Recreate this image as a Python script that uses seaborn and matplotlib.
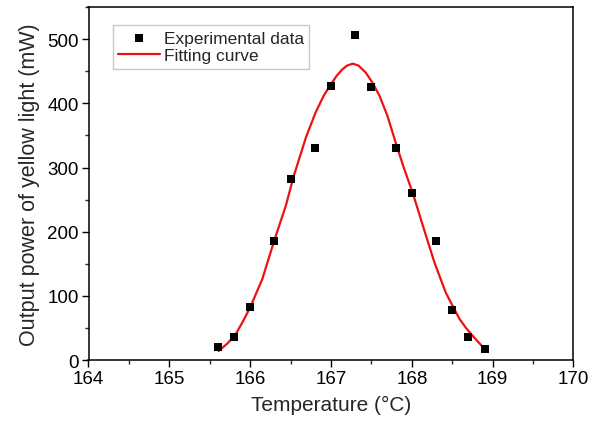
import seaborn as sns
import matplotlib.pyplot as plt
import pandas as pd
from matplotlib.ticker import MultipleLocator

# experimental points
temp = [165.6, 165.8, 166.0, 166.3, 166.5, 166.8, 167.0, 167.3, 167.5,
        167.8, 168.0, 168.3, 168.5, 168.7, 168.9]
power = [21, 36, 83, 185, 282, 330, 427, 507, 425, 330, 260, 185, 78, 36, 17]

# fitting curve
fit_temp = [165.61, 165.72, 165.82, 165.91, 166.0, 166.15, 166.29, 166.44,
            166.54, 166.69, 166.81, 166.91, 167.0, 167.07, 167.14, 167.2,
            167.27, 167.34, 167.43, 167.51, 167.6, 167.7, 167.8, 167.9,
            168.01, 168.15, 168.28, 168.42, 168.59, 168.67, 168.75, 168.83, 168.9]
fit_power = [14, 26, 40, 60, 82, 126, 183, 240, 287, 347, 386, 412, 430, 443,
             453, 459, 462, 459, 448, 433, 412, 380, 339, 300, 261, 204, 152,
             105, 64, 50, 38, 27, 17]

sns.set_theme(style="ticks")
plt.rcParams['font.family'] = ['Liberation Sans', 'DejaVu Sans']

df = pd.DataFrame({"T": temp, "P": power})
fit = pd.DataFrame({"T": fit_temp, "P": fit_power})

fig = plt.figure(figsize=(5.9, 4.31), dpi=100)
ax = fig.add_axes([0.150, 0.1624, 0.822, 0.8186])

sns.scatterplot(data=df, x="T", y="P", marker="s", color="black", s=38,
                edgecolor="black", linewidth=0, label="Experimental data", ax=ax, zorder=3)
sns.lineplot(data=fit, x="T", y="P", color="#ee1111", linewidth=1.6,
             label="Fitting curve", ax=ax, zorder=2)

ax.set_xlim(164, 170)
ax.set_ylim(0, 550)
ax.xaxis.set_major_locator(MultipleLocator(1))
ax.xaxis.set_minor_locator(MultipleLocator(0.5))
ax.yaxis.set_major_locator(MultipleLocator(100))
ax.yaxis.set_minor_locator(MultipleLocator(50))
ax.tick_params(which="major", direction="out", length=5, width=1, labelsize=13.5,
               colors="black", pad=2)
ax.tick_params(which="minor", direction="out", length=3, width=1)
for sp in ax.spines.values():
    sp.set_visible(True)
    sp.set_linewidth(1.1)
    sp.set_color("black")

ax.set_xlabel("Temperature (\u00b0C)", fontsize=15, labelpad=6)
ax.set_ylabel("Output power of yellow light (mW)", fontsize=15.5, labelpad=5)

leg = ax.legend(loc="upper left", bbox_to_anchor=(0.051, 0.949), borderaxespad=0,
                fontsize=12.5, frameon=True, fancybox=False, edgecolor="#bbbbbb",
                handlelength=2.4, borderpad=0.3, labelspacing=0.15, handletextpad=0.2)
leg.get_frame().set_linewidth(1.0)

plt.savefig("out.png", dpi=100)
